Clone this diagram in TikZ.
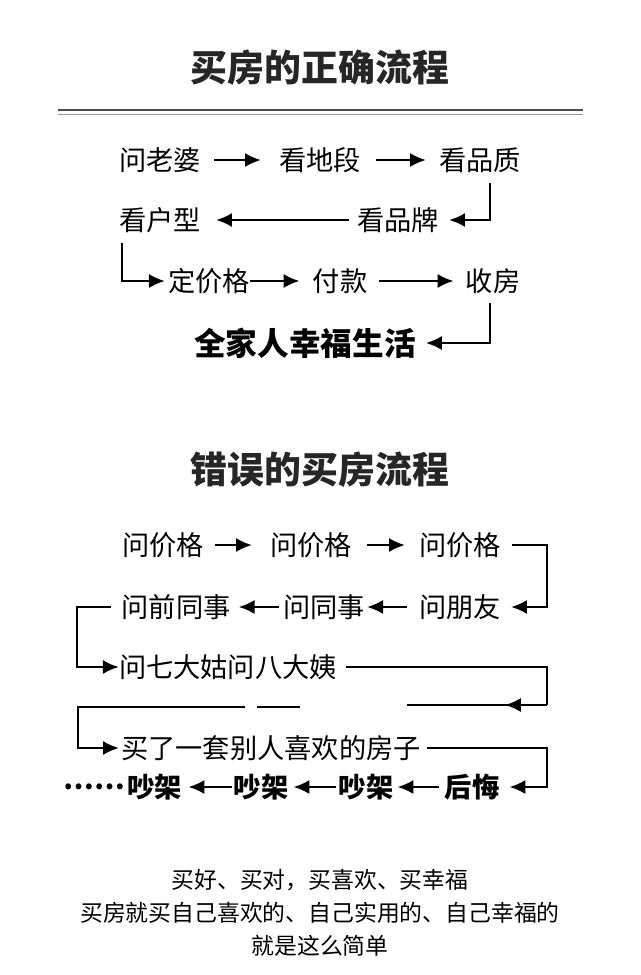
\documentclass[tikz,border=0pt]{standalone}
\usepackage{fontspec}
\setmainfont{Noto Sans CJK SC}
\usetikzlibrary{arrows.meta}
\newdimen\px
\px=0.567pt

\begin{document}
\begin{tikzpicture}[x=0.02cm, y=-0.02cm,
    step box/.style={inner sep=0pt, font=\fontsize{15.5}{17}\selectfont},
    bold box/.style={inner sep=0pt, font=\fontsize{15.5}{17}\selectfont\bfseries},
    title box/.style={inner sep=0pt, font=\fontsize{21}{24}\selectfont\bfseries, text=black!85},
    arr/.style={-{Latex[length=9pt,width=8pt]}, line width=1.2pt},
    lin/.style={line width=1.2pt}]
    \useasboundingbox (0,0) rectangle (640,975);

    % Titles
    \node[title box] (t1) at (320,68) {买房的正确流程};
    \draw[line width=1.2pt, black!70] (58,110) -- (583,110);
    \draw[line width=0.4pt, black!40] (58,114) -- (583,114);
    \node[title box] (t2) at (320,470) {错误的买房流程};

    % Right way
    \node[step box] (wife) at (160,160) {问老婆};
    \node[step box] (site) at (320,160) {看地段};
    \node[step box] (qual) at (480,160) {看品质};
    \node[step box] (brand) at (398,220) {看品牌};
    \node[step box] (layout) at (160,220) {看户型};
    \node[step box] (price) at (209,281) {定价格};
    \node[step box] (pay) at (340,281) {付款};
    \node[step box] (house) at (493,281) {收房};
    \node[bold box, font=\fontsize{18}{20}\selectfont\bfseries] (happy) at (305,343) {全家人幸福生活};

    \draw[arr] ([xshift=13\px]wife.east) -- ([xshift=-18\px]site.west);
    \draw[arr] ([xshift=15\px]site.east) -- ([xshift=-13\px]qual.west);
    \draw[arr] (490,183) -- (490,220) -- ([xshift=10\px]brand.east);
    \draw[arr] ([xshift=-8\px]brand.west) -- ([xshift=15\px]layout.east);
    \draw[arr] (122,243) -- (122,281) -- ([xshift=-3\px]price.west);
    \draw[arr] (price.east) -- ([xshift=-13\px]pay.west);
    \draw[arr] ([xshift=11\px]pay.east) -- ([xshift=-12\px]house.west);
    \draw[arr] (490,303) -- (490,343) -- ([xshift=10\px]happy.east);

    % Wrong way
    \node[step box] (p1) at (163,545) {问价格};
    \node[step box] (p2) at (311,545) {问价格};
    \node[step box] (p3) at (460,545) {问价格};
    \node[step box] (friend) at (460,607) {问朋友};
    \node[step box] (coll) at (324,607) {问同事};
    \node[step box] (excoll) at (176,607) {问前同事};
    \node[step box] (aunts) at (228,667) {问七大姑问八大姨};
    \node[step box] (bought) at (271,748) {买了一套别人喜欢的房子};
    \node[bold box] (regret) at (472,787) {后悔};
    \node[bold box] (q1) at (366,787) {吵架};
    \node[bold box] (q2) at (261,787) {吵架};
    \node[bold box] (q3) at (155,787) {吵架};
    \node[bold box, anchor=east] (dots) at ([xshift=-2\px]q3.west) {……};

    \draw[arr] ([xshift=11\px]p1.east) -- ([xshift=-18\px]p2.west);
    \draw[arr] ([xshift=15\px]p2.east) -- ([xshift=-14\px]p3.west);
    \draw[arr] ([xshift=11\px]p3.east) -- (547,545) -- (547,607) -- ([xshift=10\px]friend.east);
    \draw[arr] ([xshift=-12\px]friend.west) -- ([xshift=2\px]coll.east);
    \draw[arr] ([xshift=-4\px]coll.west) -- ([xshift=8\px]excoll.east);
    \draw[arr] ([xshift=-10\px]excoll.west) -- (77,607) -- (77,667) -- (aunts.west);
    \draw[lin] ([xshift=9\px]aunts.east) -- (547,667) -- (547,705) coordinate (bend);
    \draw[arr] (bend) -- (505,705);
    \draw[lin] (510,705) -- (407,705);
    \draw[lin] (300,707) -- (257,707);
    \draw[arr] (245,707) -- (78,707) -- (78,748) -- ([xshift=-2\px]bought.west);
    \draw[arr] ([xshift=6\px]bought.east) -- (547,748) -- (547,787) -- ([xshift=10\px]regret.east);
    \draw[arr] ([xshift=-5\px]regret.west) -- ([xshift=4\px]q1.east);
    \draw[arr] ([xshift=-2\px]q1.west) -- ([xshift=5\px]q2.east);
    \draw[arr] ([xshift=-1\px]q2.west) -- ([xshift=6\px]q3.east);

    % Closing lines
    \node[step box, font=\fontsize{13}{15}\selectfont] (s1) at (320,880) {买好、买对，买喜欢、买幸福};
    \node[step box, font=\fontsize{13}{15}\selectfont] (s2) at (320,913) {买房就买自己喜欢的、自己实用的、自己幸福的};
    \node[step box, font=\fontsize{13}{15}\selectfont] (s3) at (320,946) {就是这么简单};
\end{tikzpicture}
\end{document}
